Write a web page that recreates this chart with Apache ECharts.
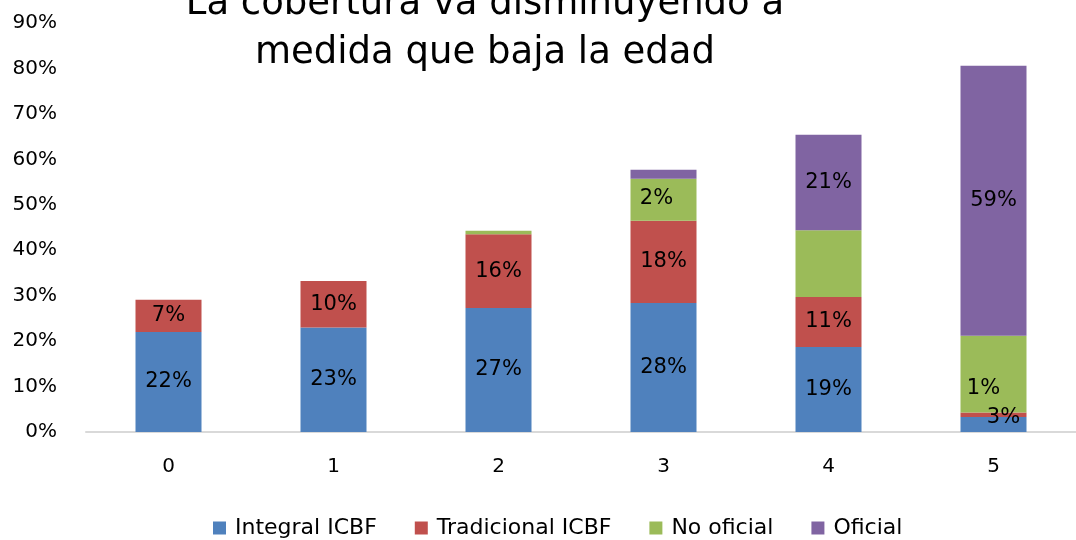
<!DOCTYPE html>
<html>
<head>
<meta charset="UTF-8">
<title>Cobertura por edad</title>
<script src="https://cdn.jsdelivr.net/npm/echarts@6/dist/echarts.min.js"></script>
<style>
    html,body
    {
        margin:0;
        padding:0;
        background:#fff;
    }
    #chart
    {
        width:1076px;
        height:540px;
    }
</style>
</head>
<body>
<div id="chart"></div>
<script>
var edades = ['0', '1', '2', '3', '4', '5'];
var integralICBF = [22.0, 23.0, 27.3, 28.4, 18.7, 3.3];
var tradicionalICBF = [7.1, 10.2, 16.2, 18.1, 11.0, 1.0];
var noOficial = [0, 0, 0.8, 9.2, 14.7, 16.9];
var oficial = [0, 0, 0, 2.0, 21.0, 59.4];

// labels moved by hand in the original
var labelOffsets = {
    integral: {5: [10, -7]},
    tradicional: {5: [-10, -26]},
    oficial: {3: [-7, 24]}
};

var chart = echarts.init(document.getElementById('chart'));
var font = 'DejaVu Sans';

function pct(p) {
    return p.value > 0 ? Math.round(p.value) + '%' : '';
}

function buildData(values, offsets) {
    return values.map(function (v, i) {
        if (offsets && offsets[i]) {
            return {value: v, label: {offset: offsets[i]}};
        }
        return v;
    });
}

function buildSeries(name, color, values, offsets, showLabel) {
    return {
        name: name,
        type: 'bar',
        stack: 'total',
        barWidth: 66,
        itemStyle: {color: color},
        label: {
            show: showLabel,
            position: 'inside',
            color: '#000',
            fontFamily: font,
            fontSize: 21,
            formatter: pct
        },
        data: buildData(values, offsets)
    };
}

var option = {
    backgroundColor: '#fff',
    animation: false,
    graphic: [
        {
            type: 'text', x: 485, y: 4,
            style: {text: 'La cobertura va disminuyendo a', fontFamily: font, fontSize: 37,
                fill: '#000', align: 'center', verticalAlign: 'middle'}
        },
        {
            type: 'text', x: 485, y: 53,
            style: {text: 'medida que baja la edad', fontFamily: font, fontSize: 37,
                fill: '#000', align: 'center', verticalAlign: 'middle'}
        }
    ],
    legend: {
        left: 208,
        top: 512,
        itemWidth: 13,
        itemHeight: 13,
        itemGap: 38,
        icon: 'rect',
        textStyle: {fontFamily: font, fontSize: 22, color: '#000', padding: [0, 0, 0, 4]},
        data: ['Integral ICBF', 'Tradicional ICBF', 'No oficial', 'Oficial']
    },
    grid: {
        left: 86,
        top: 23,
        width: 996,
        height: 409
    },
    xAxis: {
        type: 'category',
        data: edades,
        axisLine: {lineStyle: {color: '#d9d9d9', width: 2}},
        axisTick: {show: false},
        axisLabel: {color: '#000', fontFamily: font, fontSize: 20, margin: 25}
    },
    yAxis: {
        type: 'value',
        min: 0,
        max: 90,
        interval: 10,
        axisLine: {show: false},
        axisTick: {show: false},
        splitLine: {show: false},
        axisLabel: {color: '#000', fontFamily: font, fontSize: 20, margin: 29, formatter: '{value}%'}
    },
    series: [
        buildSeries('Integral ICBF', '#4f81bd', integralICBF, labelOffsets.integral, true),
        buildSeries('Tradicional ICBF', '#c0504d', tradicionalICBF, labelOffsets.tradicional, true),
        buildSeries('No oficial', '#9bbb59', noOficial, null, false),
        buildSeries('Oficial', '#8064a2', oficial, labelOffsets.oficial, true)
    ]
};

chart.setOption(option);
</script>
</body>
</html>
